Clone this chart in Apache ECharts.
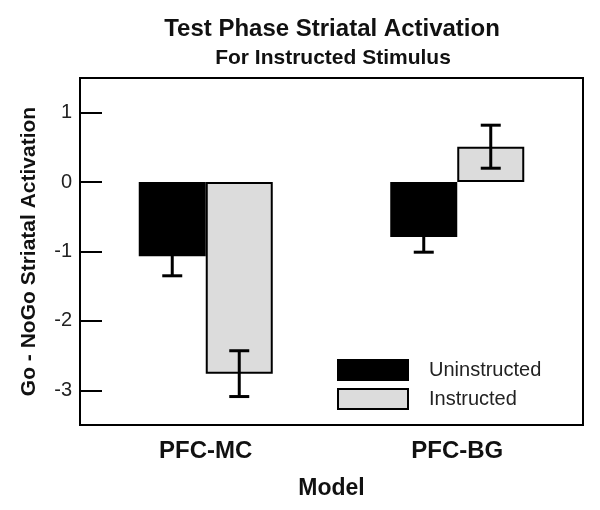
<!DOCTYPE html>
<html>
<head>
<meta charset="utf-8">
<script src="https://cdn.jsdelivr.net/npm/echarts@6/dist/echarts.min.js"></script>
<style>html,body{margin:0;padding:0;background:#fff;}#c{width:600px;height:510px;}</style>
</head>
<body>
<div id="c"></div>
<script>
// Data
const categories = ['PFC-MC', 'PFC-BG'];
const seriesNames = ['Uninstructed', 'Instructed'];
const uninstructed = [-1.07, -0.79];
const uninstructedErr = [0.28, 0.22];
const instructed = [-2.76, 0.51];
const instructedErr = [0.33, 0.31];
const yTicks = [-3, -2, -1, 0, 1];

const FONT = '"Liberation Sans", Arial, Helvetica, sans-serif';
const BAR_W = 67;
const CAP_W = 20;

const chart = echarts.init(document.getElementById('c'), null, {renderer: 'canvas'});

function errSeries(vals, errs, offsetSign) {
  return {
    type: 'custom',
    z: 10,
    silent: true,
    data: vals.map((v, i) => [i, v, errs[i]]),
    renderItem: function (params, api) {
      const i = api.value(0), v = api.value(1), e = api.value(2);
      const top = api.coord([i, v + e]);
      const bot = api.coord([i, v - e]);
      const x = top[0] + offsetSign * BAR_W / 2;
      const st = {stroke: '#000', lineWidth: 3};
      return {
        type: 'group',
        children: [
          {type: 'line', shape: {x1: x, y1: top[1], x2: x, y2: bot[1]}, style: st},
          {type: 'line', shape: {x1: x - CAP_W / 2, y1: top[1], x2: x + CAP_W / 2, y2: top[1]}, style: st},
          {type: 'line', shape: {x1: x - CAP_W / 2, y1: bot[1], x2: x + CAP_W / 2, y2: bot[1]}, style: st}
        ]
      };
    }
  };
}

chart.setOption({
  animation: false,
  backgroundColor: '#fff',
  textStyle: {fontFamily: FONT},
  title: [
    {text: 'Test Phase Striatal Activation', left: 327, top: 12, textAlign: 'center',
     textStyle: {fontFamily: FONT, fontSize: 24, fontWeight: 'bold', color: '#111'}},
    {text: 'For Instructed Stimulus', left: 328, top: 43, textAlign: 'center',
     textStyle: {fontFamily: FONT, fontSize: 21, fontWeight: 'bold', color: '#111'}}
  ],
  legend: {
    orient: 'vertical', left: 332, top: 354, itemWidth: 70, itemHeight: 20, itemGap: 7,
    icon: 'rect', data: seriesNames,
    textStyle: {fontFamily: FONT, fontSize: 20, color: '#222', padding: [0, 0, 0, 16]}
  },
  grid: {left: 80, right: 17, top: 78, bottom: 85, show: true, borderColor: '#000', borderWidth: 2, backgroundColor: 'transparent'},
  xAxis: {
    type: 'category', data: categories,
    name: 'Model', nameLocation: 'middle', nameGap: 52,
    nameTextStyle: {fontFamily: FONT, fontSize: 23, fontWeight: 'bold', color: '#111'},
    axisLine: {onZero: false, lineStyle: {color: '#000', width: 2}},
    axisTick: {show: false},
    axisLabel: {margin: 14, fontFamily: FONT, fontSize: 24, fontWeight: 'bold', color: '#111'},
    splitLine: {show: false}
  },
  yAxis: {
    type: 'value', min: -3.5, max: 1.5,
    name: 'Go - NoGo Striatal Activation', nameLocation: 'middle', nameGap: 40,
    nameTextStyle: {fontFamily: FONT, fontSize: 21, fontWeight: 'bold', color: '#111'},
    axisLine: {show: true, lineStyle: {color: '#000', width: 2}},
    axisTick: {show: true, inside: true, length: 22, customValues: yTicks, lineStyle: {color: '#000', width: 2}},
    axisLabel: {margin: 8, customValues: yTicks, fontFamily: FONT, fontSize: 20, color: '#222'},
    splitLine: {show: false}
  },
  series: [
    {name: seriesNames[0], type: 'bar', data: uninstructed, barWidth: BAR_W, barGap: '0%',
     itemStyle: {color: '#000', borderColor: '#000', borderWidth: 2}},
    {name: seriesNames[1], type: 'bar', data: instructed, barWidth: BAR_W, barGap: '0%',
     itemStyle: {color: '#dcdcdc', borderColor: '#000', borderWidth: 2}},
    errSeries(uninstructed, uninstructedErr, -1),
    errSeries(instructed, instructedErr, 1)
  ]
});
</script>
</body>
</html>
